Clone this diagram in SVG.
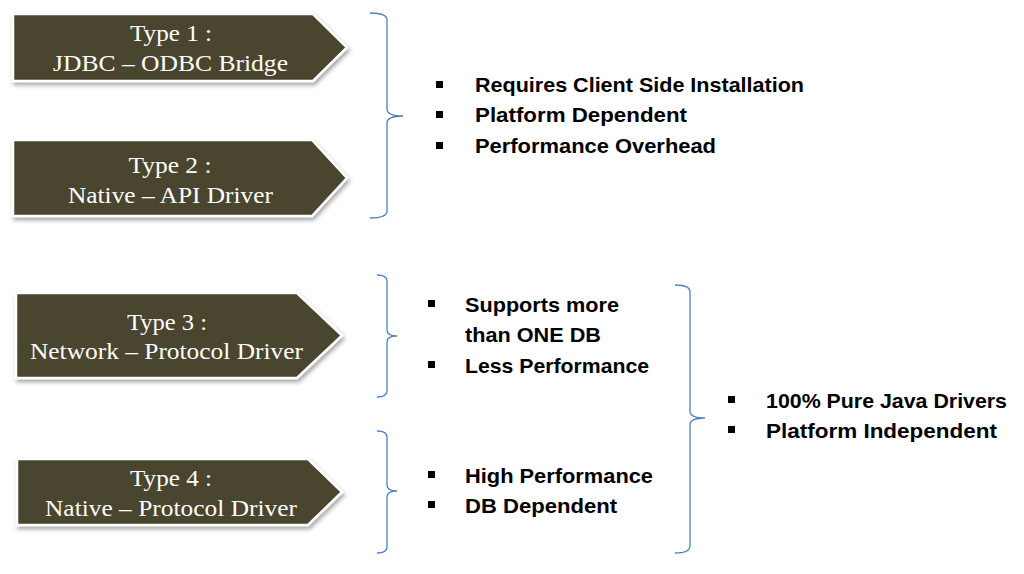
<svg xmlns="http://www.w3.org/2000/svg" width="1024" height="574" viewBox="0 0 1024 574">
<style>
.box{fill:#4a452f;stroke:#ffffff;stroke-width:2.5;stroke-linejoin:miter;filter:url(#sh)}
.lbl{font-family:"Liberation Serif","Times New Roman",serif;font-size:23px;fill:#ffffff;text-anchor:middle}
.brace{fill:none;stroke:#4f81bd;stroke-width:1.3}
.pt{font-family:"Liberation Sans",Arial,sans-serif;font-weight:bold;font-size:21px;fill:#000000}
.bul{fill:#000000}
</style>
<defs>
<filter id="sh" x="-10%" y="-20%" width="120%" height="150%">
<feDropShadow dx="1.5" dy="3" stdDeviation="2" flood-color="#000000" flood-opacity="0.35"/>
</filter>
</defs>
<rect width="1024" height="574" fill="#ffffff"/>

<g id="type1">
<path class="box" d="M13,14 H313 L347,47.5 L313,81 H13 Z"/>
<text class="lbl" x="171" y="41" textLength="82" lengthAdjust="spacingAndGlyphs">Type 1 :</text>
<text class="lbl" x="170.5" y="71" textLength="235" lengthAdjust="spacingAndGlyphs">JDBC – ODBC Bridge</text>
</g>
<g id="type2">
<path class="box" d="M13,140 H312 L347,178 L312,216 H13 Z"/>
<text class="lbl" x="170" y="173" textLength="83" lengthAdjust="spacingAndGlyphs">Type 2 :</text>
<text class="lbl" x="170.5" y="203" textLength="205" lengthAdjust="spacingAndGlyphs">Native – API Driver</text>
</g>
<g id="type3">
<path class="box" d="M16,293 H297 L342,335.5 L297,378 H16 Z"/>
<text class="lbl" x="167" y="330" textLength="80" lengthAdjust="spacingAndGlyphs">Type 3 :</text>
<text class="lbl" x="166.5" y="359" textLength="273" lengthAdjust="spacingAndGlyphs">Network – Protocol Driver</text>
</g>
<g id="type4">
<path class="box" d="M17,459 H308 L342,492 L308,525 H17 Z"/>
<text class="lbl" x="171" y="486" textLength="82" lengthAdjust="spacingAndGlyphs">Type 4 :</text>
<text class="lbl" x="171" y="516" textLength="252" lengthAdjust="spacingAndGlyphs">Native – Protocol Driver</text>
</g>

<g id="connectors">
<path class="brace" d="M370,13 Q387,13 387,20 V109 Q387,116 403,116 Q387,116 387,123 V211 Q387,218 370,218"/>
<path class="brace" d="M377,275 Q387,275 387,281 V330 Q387,336 397,336 Q387,336 387,342 V391 Q387,397 377,397"/>
<path class="brace" d="M377,431 Q387,431 387,437 V485 Q387,491 397,491 Q387,491 387,497 V547 Q387,553 377,553"/>
<path class="brace" d="M675,285 Q690,285 690,292 V411 Q690,418 705,418 Q690,418 690,425 V546 Q690,553 675,553"/>
</g>

<g id="props12">
<rect class="bul" x="436" y="81" width="7" height="7"/>
<text class="pt" x="475" y="92" textLength="329" lengthAdjust="spacingAndGlyphs">Requires Client Side Installation</text>
<rect class="bul" x="436" y="111" width="7" height="7"/>
<text class="pt" x="475" y="122" textLength="212" lengthAdjust="spacingAndGlyphs">Platform Dependent</text>
<rect class="bul" x="436" y="142" width="7" height="7"/>
<text class="pt" x="475" y="153" textLength="241" lengthAdjust="spacingAndGlyphs">Performance Overhead</text>
</g>

<g id="props3">
<rect class="bul" x="428" y="300" width="7" height="7"/>
<text class="pt" x="465" y="312" textLength="154" lengthAdjust="spacingAndGlyphs">Supports more</text>
<text class="pt" x="465" y="342" textLength="136" lengthAdjust="spacingAndGlyphs">than ONE DB</text>
<rect class="bul" x="428" y="361" width="7" height="7"/>
<text class="pt" x="465" y="373" textLength="184" lengthAdjust="spacingAndGlyphs">Less Performance</text>
</g>

<g id="props4">
<rect class="bul" x="428" y="471" width="7" height="7"/>
<text class="pt" x="465" y="483" textLength="188" lengthAdjust="spacingAndGlyphs">High Performance</text>
<rect class="bul" x="428" y="501" width="7" height="7"/>
<text class="pt" x="465" y="513" textLength="152" lengthAdjust="spacingAndGlyphs">DB Dependent</text>
</g>

<g id="props34">
<rect class="bul" x="728" y="396" width="7" height="7"/>
<text class="pt" x="766" y="408" textLength="241" lengthAdjust="spacingAndGlyphs">100% Pure Java Drivers</text>
<rect class="bul" x="728" y="426" width="7" height="7"/>
<text class="pt" x="766" y="438" textLength="231" lengthAdjust="spacingAndGlyphs">Platform Independent</text>
</g>
</svg>
